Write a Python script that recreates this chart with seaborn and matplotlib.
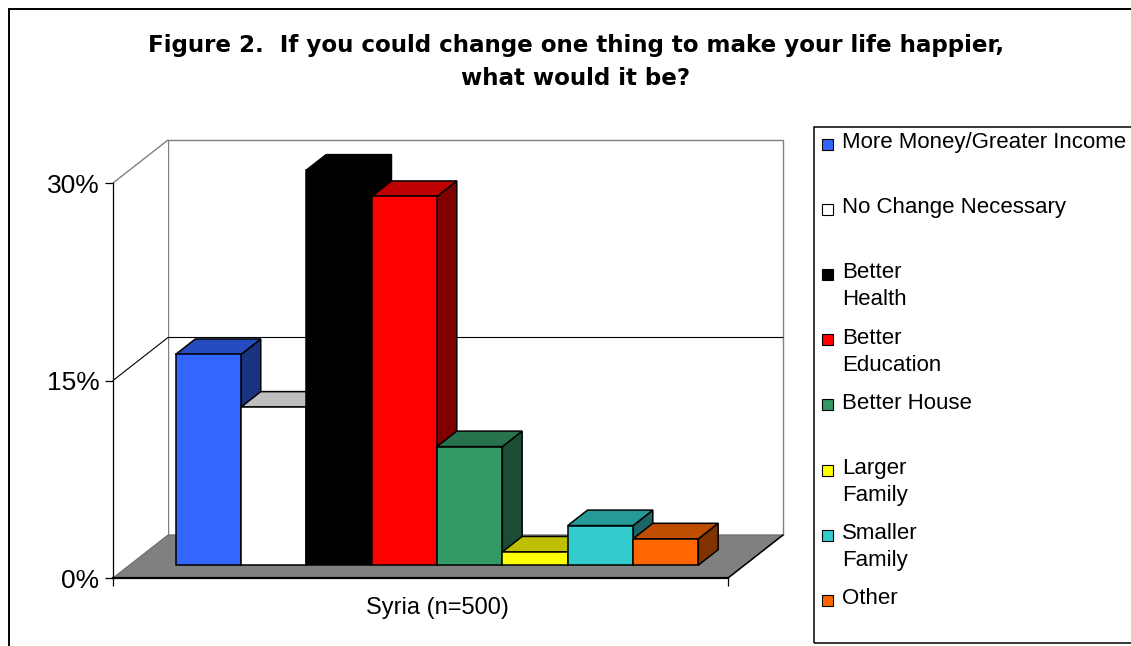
import numpy as np
import pandas as pd
import matplotlib
matplotlib.use("Agg")
import matplotlib.pyplot as plt
import matplotlib.colors as mcolors
from matplotlib.patches import Polygon, Rectangle
from matplotlib.lines import Line2D
from matplotlib.transforms import ScaledTranslation
import seaborn as sns

# ---- data -------------------------------------------------------------
group = "Syria (n=500)"
answers = [
    "More Money/Greater Income",
    "No Change Necessary",
    "Better\nHealth",
    "Better\nEducation",
    "Better House",
    "Larger\nFamily",
    "Smaller\nFamily",
    "Other",
]
shares = [16, 12, 30, 28, 9, 1, 3, 2]
face_colors = ["#3366FF", "#FFFFFF", "#000000", "#FF0000",
               "#339966", "#FFFF00", "#33CCCC", "#FF6600"]
y_ticks = [0, 15, 30]
y_tick_labels = ["0%", "15%", "30%"]
title_lines = [
    "Figure 2.  If you could change one thing to make your life happier,",
    "what would it be?",
]

# ---- figure ------------------------------------------------------------
W, H, DPI = 1131, 646, 100
sns.set_theme(style="white")
plt.rcParams["font.family"] = ["Liberation Sans", "DejaVu Sans"]

fig = plt.figure(figsize=(W / DPI, H / DPI), dpi=DPI)
fig.patch.set_facecolor("white")


def fx(px):
    return px / W


def fy(py):
    return 1 - py / H


# front plane of the box (0 % on the floor front edge, 30 % at the top)
LEFT, RIGHT, BOTTOM, TOP = 113, 728, 578, 183
YMAX = 30
ax = fig.add_axes([fx(LEFT), fy(BOTTOM), (RIGHT - LEFT) / W, (BOTTOM - TOP) / H])
ax.set_facecolor("none")

df = pd.DataFrame({"group": [group] * len(answers), "answer": answers, "share": shares})
sns.barplot(
    data=df, x="group", y="share", hue="answer", hue_order=answers,
    palette=dict(zip(answers, face_colors)), width=0.85, dodge=True,
    saturation=1, edgecolor="black", linewidth=1.1, legend=False, ax=ax,
)
ax.set_xlim(-0.5, 0.5)
ax.set_ylim(0, YMAX)

# oblique depth of the box, in pixels, converted to data units
DEPTH_PX = np.array([55.0, 43.0])
XU = 1.0 / (RIGHT - LEFT)
YU = YMAX / (BOTTOM - TOP)
BAR_F0, BAR_F1 = 0.30, 0.66


def P(x, y, f):
    return (x + f * DEPTH_PX[0] * XU, y + f * DEPTH_PX[1] * YU)


# walls and floor
ax.add_patch(Polygon([P(-0.5, 0, 1), P(0.5, 0, 1), P(0.5, YMAX, 1), P(-0.5, YMAX, 1)],
                     closed=True, facecolor="white", edgecolor="#808080", lw=1.0,
                     zorder=0.5, clip_on=False))
ax.add_patch(Polygon([P(-0.5, 0, 0), P(-0.5, 0, 1), P(-0.5, YMAX, 1), P(-0.5, YMAX, 0)],
                     closed=True, facecolor="white", edgecolor="none",
                     zorder=0.5, clip_on=False))
ax.add_line(Line2D(*zip(P(-0.5, YMAX, 0), P(-0.5, YMAX, 1)), color="#808080", lw=1.0,
                   zorder=0.6, clip_on=False))
gx, gy = zip(P(-0.5, 15, 0), P(-0.5, 15, 1), P(0.5, 15, 1))
ax.add_line(Line2D(gx, gy, color="black", lw=0.8, zorder=0.7, clip_on=False))

ax.add_patch(Polygon([P(-0.5, 0, 0), P(0.5, 0, 0), P(0.5, 0, 1), P(-0.5, 0, 1)],
                     closed=True, facecolor="#808080", edgecolor="#6a6a6a", lw=0.8,
                     zorder=1, clip_on=False))
ax.add_line(Line2D(*zip(P(0.5, 0, 0), P(0.5, 0, 1)), color="black", lw=1.1,
                   zorder=1.1, clip_on=False))

# bars: front face from seaborn, top and side faces follow the same geometry
front_shift = ScaledTranslation(BAR_F0 * DEPTH_PX[0] / DPI, BAR_F0 * DEPTH_PX[1] / DPI,
                                fig.dpi_scale_trans)
for i, cont in enumerate(ax.containers):
    bar = cont.patches[0]
    x0, w, h = bar.get_x(), bar.get_width(), bar.get_height()
    rgb = np.array(mcolors.to_rgb(face_colors[i]))
    top_col, side_col = rgb * 0.75, rgb * 0.5

    bar.set_transform(ax.transData + front_shift)
    bar.set_clip_on(False)
    bar.set_zorder(4 + 2 * i)

    top = [P(x0, h, BAR_F0), P(x0 + w, h, BAR_F0), P(x0 + w, h, BAR_F1), P(x0, h, BAR_F1)]
    side = [P(x0 + w, 0, BAR_F0), P(x0 + w, 0, BAR_F1), P(x0 + w, h, BAR_F1), P(x0 + w, h, BAR_F0)]
    ax.add_patch(Polygon(side, closed=True, facecolor=side_col, edgecolor="black",
                         lw=1.1, zorder=3 + 2 * i, clip_on=False))
    ax.add_patch(Polygon(top, closed=True, facecolor=top_col, edgecolor="black",
                         lw=1.1, zorder=3 + 2 * i, clip_on=False))

# axes, ticks and labels
for s in ("top", "right"):
    ax.spines[s].set_visible(False)
ax.spines["left"].set_color("black")
ax.spines["left"].set_linewidth(0.9)
ax.spines["bottom"].set_color("black")
ax.spines["bottom"].set_linewidth(1.6)
ax.spines["left"].set_zorder(2)
ax.spines["bottom"].set_zorder(2)

ax.set_yticks(y_ticks, labels=y_tick_labels)
ax.set_xticks([-0.5, 0.5], labels=["", ""])
ax.tick_params(axis="y", left=True, direction="out", length=5.8, width=0.9,
               color="black", pad=4.0, labelsize=19, labelcolor="black")
ax.tick_params(axis="x", bottom=True, direction="out", length=5.8, width=0.9,
               color="black", labelsize=1)
ax.set_xlabel("")
ax.set_ylabel("")
ax.annotate(group, xy=(0, 0), xycoords="data",
            xytext=(BAR_F0 * DEPTH_PX[0] * 0.72, -36 * 0.72), textcoords="offset points",
            ha="center", va="baseline", fontsize=17, color="black", annotation_clip=False)

# title (wide bold face)
for line, base in zip(title_lines, (52, 85)):
    fig.text(fx(576), fy(base), line, ha="center", va="baseline",
             fontsize=16.6, fontweight="bold", color="black",
             family=["DejaVu Sans"])

# legend panel
fig.add_artist(Rectangle((fx(814), fy(643)), (1140 - 814) / W, (643 - 127) / H,
                         transform=fig.transFigure, fill=False, edgecolor="black",
                         lw=1.1, clip_on=False))
for i, (label, col) in enumerate(zip(answers, face_colors)):
    base = 148 + 65.2 * i
    fig.add_artist(Rectangle((fx(822), fy(base - 4 + 5.5)), 11 / W, 11 / H,
                             transform=fig.transFigure, facecolor=col,
                             edgecolor="black", lw=0.8))
    for j, line in enumerate(label.split("\n")):
        fig.text(fx(842), fy(base + 27 * j), line, ha="left", va="baseline",
                 fontsize=16, color="black")

# outer chart frame
fig.add_artist(Rectangle((fx(9), fy(660)), (1150 - 9) / W, (660 - 9) / H,
                         transform=fig.transFigure, fill=False, edgecolor="black",
                         lw=1.4, clip_on=False))

fig.savefig("out.png", dpi=DPI, facecolor="white")
